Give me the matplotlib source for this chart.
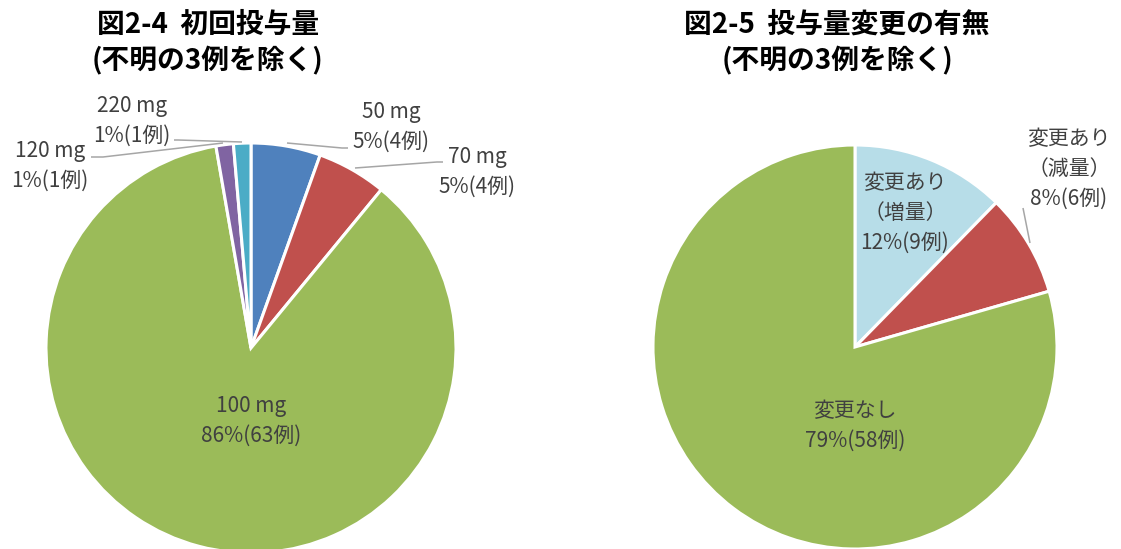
import matplotlib.pyplot as plt

plt.rcParams['font.family'] = ['Noto Sans CJK JP', 'DejaVu Sans']

W, H = 1121, 549

# 図2-4 初回投与量
dose_labels = ['50 mg', '70 mg', '100 mg', '120 mg', '220 mg']
dose_counts = [4, 4, 63, 1, 1]
dose_colors = ['#4f81bd', '#c0504d', '#9bbb59', '#8064a2', '#4bacc6']

# 図2-5 投与量変更の有無
change_labels = ['変更あり\n（増量）', '変更あり\n（減量）', '変更なし']
change_counts = [9, 6, 58]
change_colors = ['#b7dde8', '#c0504d', '#9bbb59']

# ラベル位置（ピクセル, 上原点）
dose_label_pos = [(391, 127), (477, 172), (251, 421), (50, 166), (132, 121)]
change_label_pos = [(905, 213), (1069, 169), (855, 426)]

# 引き出し線
dose_leaders = [
    [(287, 143), (342, 148), (348, 148)],
    [(355, 168), (437, 162), (443, 162)],
    None,
    [(223, 143), (103, 157), (91, 157)],
    [(242, 142), (178, 140), (174, 140)],
]
change_leaders = [None, [(1023, 208), (1030, 243)], None]


def py(y):
    return H - y


def pct_text(count, total):
    return f'{round(100 * count / total)}%({count}例)'


fig = plt.figure(figsize=(W / 100, H / 100), dpi=100)
ax = fig.add_axes([0, 0, 1, 1])


def draw_pie(labels, counts, colors, center, radius, label_pos, leaders):
    total = sum(counts)
    ax.pie(counts, colors=colors, startangle=90, counterclock=False,
           center=(center[0], py(center[1])), radius=radius,
           wedgeprops=dict(edgecolor='white', linewidth=2.2))
    for lab, c, (x, y), ld in zip(labels, counts, label_pos, leaders):
        ax.text(x, py(y), f'{lab}\n{pct_text(c, total)}', ha='center', va='center',
                fontsize=15, color='#404040', linespacing=1.48)
        if ld:
            ax.plot([p[0] for p in ld], [py(p[1]) for p in ld],
                    color='#a6a6a6', lw=1.1, solid_capstyle='butt')


draw_pie(dose_labels, dose_counts, dose_colors, (251, 348), 205,
         dose_label_pos, dose_leaders)
draw_pie(change_labels, change_counts, change_colors, (855, 347), 202,
         change_label_pos, change_leaders)

ax.text(208, py(43), '図2-4  初回投与量\n(不明の3例を除く)', ha='center', va='center',
        fontsize=20, fontweight='bold', color='black', linespacing=1.3)
ax.text(837, py(43), '図2-5  投与量変更の有無\n(不明の3例を除く)', ha='center', va='center',
        fontsize=20, fontweight='bold', color='black', linespacing=1.3)

ax.set_xlim(0, W)
ax.set_ylim(0, H)
ax.set_aspect('auto')
ax.axis('off')

fig.savefig('out.png', dpi=100)
